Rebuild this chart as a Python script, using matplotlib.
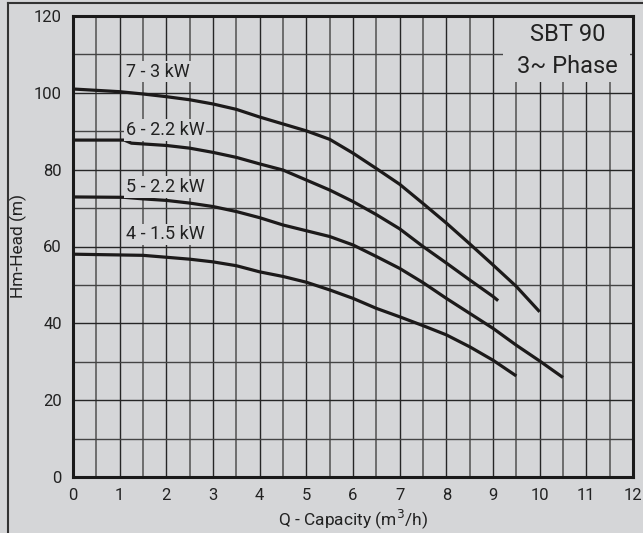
import matplotlib
matplotlib.use("Agg")
import matplotlib.pyplot as plt
from matplotlib.patches import Rectangle
from matplotlib.lines import Line2D
from matplotlib.ticker import MultipleLocator

plt.rcParams['font.family'] = ['Roboto', 'DejaVu Sans']

# ---- data ----
q7 = [0, 1, 1.5, 2, 2.5, 3, 3.5, 4, 4.5, 5, 5.5, 6, 6.5, 7, 7.5, 8, 8.5, 9, 9.5, 10]
h7 = [101.0, 100.3, 99.7, 99.0, 98.2, 97.1, 95.7, 93.7, 91.9, 90.1, 87.9, 84.3, 80.3, 76.2,
      71.2, 66.1, 60.7, 55.2, 49.6, 43.0]

q6 = [0, 1.1, 1.25, 1.5, 2, 2.5, 3, 3.5, 4, 4.5, 5, 5.5, 6, 6.5, 7, 7.5, 8, 8.5, 9, 9.11]
h6 = [87.7, 87.7, 86.9, 86.7, 86.3, 85.6, 84.5, 83.2, 81.5, 79.9, 77.3, 74.7, 71.7, 68.3,
      64.6, 60.0, 55.7, 51.3, 47.0, 45.9]

q5 = [0, 1.1, 1.5, 2, 2.5, 3, 3.5, 4, 4.5, 5, 5.5, 6, 6.5, 7, 7.5, 8, 8.5, 9, 9.5, 10, 10.5]
h5 = [72.9, 72.8, 72.4, 72.0, 71.3, 70.4, 69.1, 67.5, 65.6, 64.1, 62.6, 60.4, 57.4, 54.3,
      50.6, 46.5, 42.6, 38.7, 34.3, 30.2, 25.9]

q4 = [0, 1, 1.5, 2, 2.5, 3, 3.5, 4, 4.5, 5, 5.5, 6, 6.5, 7, 7.5, 8, 8.5, 9, 9.5]
h4 = [58.0, 57.8, 57.7, 57.2, 56.7, 56.0, 55.0, 53.4, 52.2, 50.7, 48.7, 46.5, 43.9, 41.7,
      39.4, 37.0, 33.9, 30.4, 26.3]

curve_labels = ["7 - 3 kW", "6 - 2.2 kW", "5 - 2.2 kW", "4 - 1.5 kW"]
label_y = [105.5, 90.3, 75.5, 63.2]
label_x = 1.13

x_ticks = list(range(0, 13))
y_ticks = list(range(0, 121, 20))

title1 = "SBT 90"
title2 = "3~ Phase"

bg = "#d5d6d8"
ink = "#222222"

fig = plt.figure(figsize=(6.43, 5.33), dpi=100, facecolor=bg)
ax = fig.add_axes([73/643, 1-477/533, 560/643, 461/533])
ax.set_facecolor(bg)

ax.set_xlim(0, 12)
ax.set_ylim(0, 120)
ax.xaxis.set_minor_locator(MultipleLocator(0.5))
ax.yaxis.set_minor_locator(MultipleLocator(10))
ax.set_xticks(x_ticks)
ax.set_yticks(y_ticks)

ax.grid(which='major', axis='x', color='#262626', lw=1.0, zorder=1)
ax.grid(which='minor', axis='x', color='#505050', lw=1.1, zorder=1)
ax.grid(which='major', axis='y', color='#262626', lw=1.0, zorder=1)
ax.grid(which='minor', axis='y', color='#444444', lw=1.0, zorder=1)
ax.set_axisbelow(True)

ax.tick_params(which='both', length=0, labelsize=12, colors=ink, pad=8)
for s in ax.spines.values():
    s.set_linewidth(2.2)
    s.set_color('#1a1a1a')
    s.set_zorder(6)

for q, h in [(q7, h7), (q6, h6), (q5, h5), (q4, h4)]:
    ax.plot(q, h, color='#1c1a1a', lw=2.3, zorder=3, solid_capstyle='butt',
            solid_joinstyle='round')

for lab, ly in zip(curve_labels, label_y):
    ax.text(label_x, ly, lab, fontsize=13, color=ink, va='center', ha='left', zorder=4,
            bbox=dict(facecolor=bg, edgecolor='none', pad=1.2))

# title box in the upper right
ax.add_patch(Rectangle((9.22, 102.8), 2.72, 17.2, facecolor=bg, edgecolor='none', zorder=2))
ax.text(10.6, 115.2, title1, fontsize=17, ha='center', va='center', color=ink, zorder=4)
ax.text(10.6, 106.9, title2, fontsize=17, ha='center', va='center', color=ink, zorder=4)

ax.set_xlabel("Q - Capacity (m$^3$/h)", fontsize=12.5, color=ink, labelpad=3)
ax.set_ylabel("Hm-Head (m)", fontsize=12.5, color=ink, labelpad=5)

# outer frame
fig.add_artist(Line2D([7.5/643, 7.5/643], [0, 1-2.5/533], transform=fig.transFigure,
                      color='#333333', lw=1.5))
fig.add_artist(Line2D([7.5/643, 1], [1-2.5/533, 1-2.5/533], transform=fig.transFigure,
                      color='#333333', lw=1.5))

fig.savefig("out.png", dpi=100, facecolor=bg)
